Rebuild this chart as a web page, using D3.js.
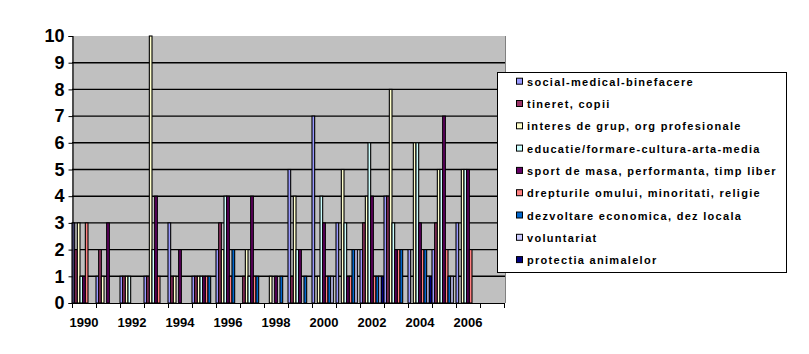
<!DOCTYPE html>
<html><head><meta charset="utf-8">
<script src="https://cdn.jsdelivr.net/npm/d3@7"></script>
<style>body{margin:0;background:#fff} svg{display:block}</style>
</head><body>
<svg id="c" width="809" height="354"></svg>
<script>
const years = [1990,1991,1992,1993,1994,1995,1996,1997,1998,1999,2000,2001,2002,2003,2004,2005,2006,2007];
const labeledYears = [1990,1992,1994,1996,1998,2000,2002,2004,2006];
const yTicks = [0,1,2,3,4,5,6,7,8,9,10];
const seriesNames = [
  "social-medical-binefacere",
  "tineret, copii",
  "interes de grup, org profesionale",
  "educatie/formare-cultura-arta-media",
  "sport de masa, performanta, timp liber",
  "drepturile omului, minoritati, religie",
  "dezvoltare economica, dez locala",
  "voluntariat",
  "protectia animalelor"
];
const seriesColors = ["#9999FF","#993366","#FFFFCC","#CCFFFF","#660066","#FF8080","#0066CC","#CCCCFF","#000080"];
const social      = [3,1,1,1,3,1,2,0,0,5,7,3,2,4,2,2,3,0];
const tineret     = [2,2,1,1,1,1,3,1,0,1,0,0,3,4,0,3,0,0];
const interes     = [3,1,1,10,1,1,2,2,1,4,1,5,4,8,6,5,5,0];
const educatie    = [1,0,1,2,0,1,4,1,0,2,4,3,6,3,6,5,5,0];
const sport       = [1,3,0,4,2,1,4,4,1,2,3,1,4,2,3,7,5,0];
const drepturile  = [3,0,0,1,0,1,1,1,0,0,1,1,1,2,2,2,2,0];
const dezvoltare  = [0,0,0,0,0,1,2,1,1,1,1,2,1,2,2,1,0,0];
const voluntariat = [0,0,0,0,0,0,0,0,0,0,1,2,1,0,1,1,0,0];
const protectia   = [0,0,0,0,0,0,0,0,0,0,0,0,1,0,1,0,0,0];
const seriesValues = [social,tineret,interes,educatie,sport,drepturile,dezvoltare,voluntariat,protectia];

const svg = d3.select("#c");
const L = 72, R = 504, T = 36, B = 303;
const x0 = d3.scaleBand().domain(years).range([L, R]).padding(0);
const x1 = d3.scaleBand().domain(d3.range(seriesNames.length)).range([0, x0.bandwidth()]).padding(0);
const y = d3.scaleLinear().domain([0, 10]).range([B, T]);

// plot area
svg.append("rect").attr("x", L).attr("y", T).attr("width", R + 1 - L).attr("height", B - T).attr("fill", "#C0C0C0");
svg.append("line").attr("x1", R + 1.5).attr("x2", R + 1.5).attr("y1", T).attr("y2", B).attr("stroke", "#808080");

// gridlines
svg.append("g").selectAll("line").data(yTicks.filter(v => v > 0 && v < 10)).join("line")
  .attr("x1", L).attr("x2", R + 1)
  .attr("y1", d => y(d)).attr("y2", d => y(d))
  .attr("stroke", "#000").attr("stroke-width", 1.4);

// bars
const rows = years.map((yr, i) => ({year: yr, vals: seriesValues.map(s => s[i])}));
const grp = svg.append("g").selectAll("g").data(rows).join("g")
  .attr("transform", d => `translate(${x0(d.year)},0)`);
grp.selectAll("rect").data(d => d.vals.map((v, j) => ({v, j})).filter(e => e.v > 0)).join("rect")
  .attr("x", e => x1(e.j))
  .attr("width", x1.bandwidth())
  .attr("y", e => y(e.v))
  .attr("height", e => B - y(e.v))
  .attr("fill", e => seriesColors[e.j])
  .attr("stroke", "#000").attr("stroke-width", 1.1);

// y axis
const yAxis = svg.append("g").attr("transform", `translate(${L + 0.5},0)`)
  .call(d3.axisLeft(y).tickValues(yTicks).tickSize(4).tickPadding(4).tickFormat(d3.format("d")));
yAxis.select(".domain").attr("stroke", "#000").attr("stroke-width", 1.2);
yAxis.selectAll(".tick line").attr("stroke", "#000");
yAxis.selectAll("text").attr("font-family", "Liberation Sans, Arial, sans-serif")
  .attr("font-weight", "bold").attr("font-size", "18px").attr("fill", "#000");

// x axis
const xAxis = svg.append("g").attr("transform", `translate(0,${B + 0.5})`)
  .call(d3.axisBottom(x0).tickSize(0).tickPadding(14)
    .tickFormat(d => labeledYears.includes(d) ? String(d) : ""));
xAxis.select(".domain").attr("stroke", "#000").attr("stroke-width", 1.2).attr("d", `M${L},0H${R + 1}`);
xAxis.selectAll("text").attr("font-family", "Liberation Sans, Arial, sans-serif")
  .attr("font-weight", "bold").attr("font-size", "13px").attr("fill", "#000");
const bounds = years.map(d => x0(d)).concat([R]);
svg.append("g").selectAll("line").data(bounds).join("line")
  .attr("x1", d => Math.round(d) + 0.5).attr("x2", d => Math.round(d) + 0.5)
  .attr("y1", B).attr("y2", B + 5).attr("stroke", "#000");

// legend
const lg = svg.append("g");
lg.append("rect").attr("x", 497.5).attr("y", 72.5).attr("width", 289).attr("height", 200)
  .attr("fill", "#fff").attr("stroke", "#000");
const items = lg.selectAll("g.it").data(seriesNames).join("g").attr("class", "it")
  .attr("transform", (d, i) => `translate(0,${81.7 + i * 22.3})`);
items.append("rect").attr("x", 516.5).attr("y", -3.5).attr("width", 6).attr("height", 6)
  .attr("fill", (d, i) => seriesColors[i]).attr("stroke", "#000");
items.append("text").attr("x", 527).attr("y", 4)
  .attr("font-family", "Liberation Sans, Arial, sans-serif").attr("font-weight", "bold")
  .attr("font-size", "11px").attr("letter-spacing", "1.3px").attr("fill", "#000")
  .text(d => d);
</script>
</body></html>
